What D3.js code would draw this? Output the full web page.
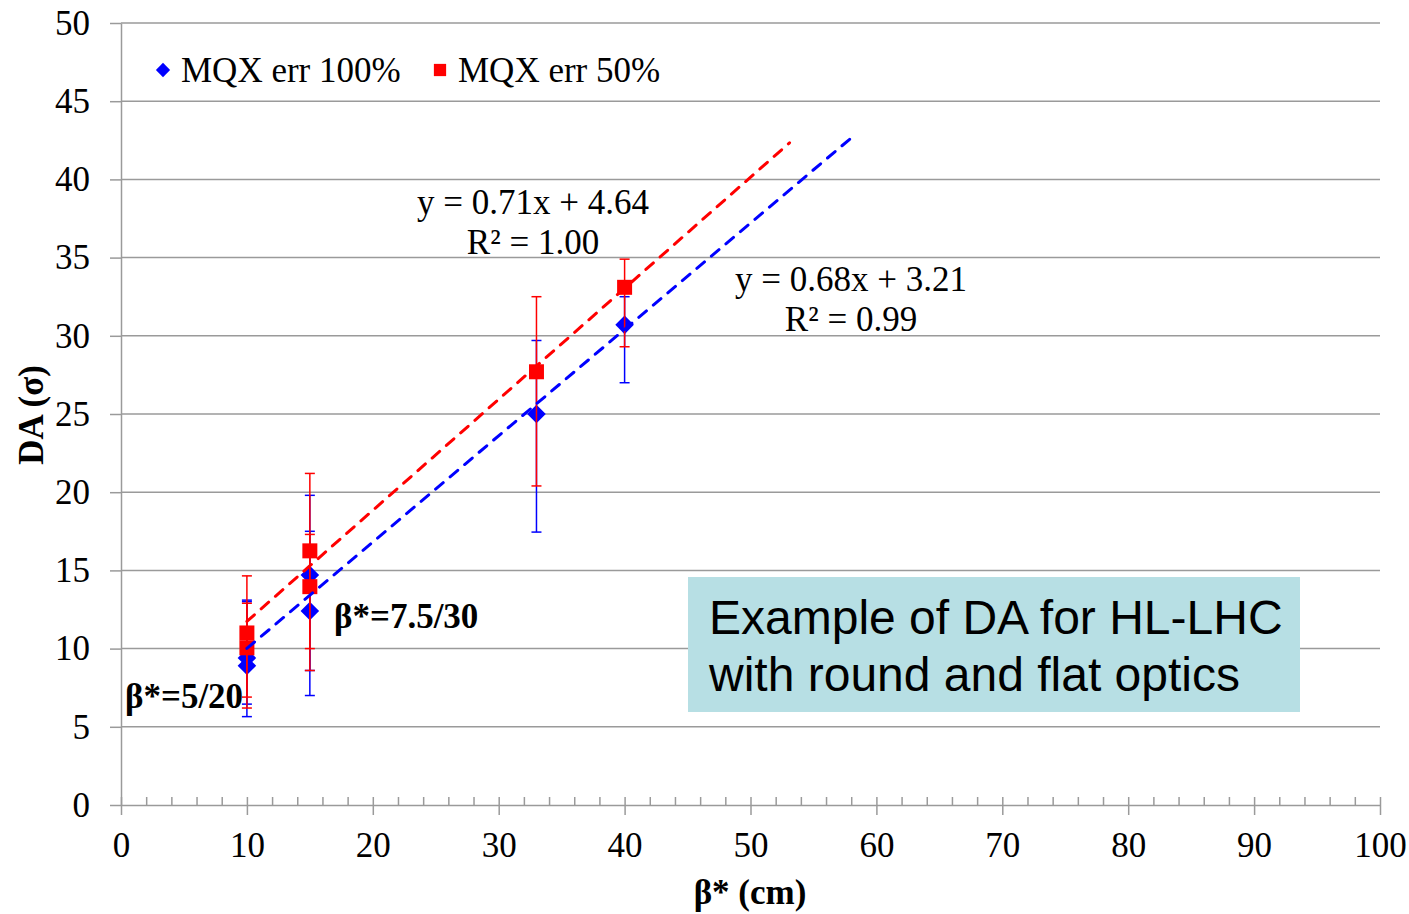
<!DOCTYPE html>
<html>
<head>
<meta charset="utf-8">
<script src="https://cdn.jsdelivr.net/npm/d3@7"></script>
<style>
  body { margin: 0; background: #fff; }
  svg text { font-family: "Liberation Serif", "Times New Roman", serif; }
</style>
</head>
<body>
<div id="chart"></div>
<script>
// data
var beta_blue = [10, 10, 15, 15, 33, 40];
var da_blue = [9.4, 8.9, 14.7, 12.4, 25.0, 30.7];
var blue_low = [5.65, 6.45, 8.6, 7.0, 17.45, 27.0];
var blue_high = [13.1, 13.0, 19.8, 17.5, 29.7, 32.5];

var beta_red = [10, 10, 15, 15, 33, 40];
var da_red = [11.0, 10.05, 16.25, 13.96, 27.7, 33.1];
var red_low = [6.9, 6.2, 10.0, 8.6, 20.4, 29.3];
var red_high = [14.65, 12.9, 21.2, 17.3, 32.5, 34.9];

// trend lines (slope, intercept, x range)
var trend_slope = [0.68, 0.71];
var trend_icpt = [3.21, 4.64];
var trend_x = [[10, 57.9], [10, 53.1]];
var trend_eq = ['y = 0.68x + 3.21', 'y = 0.71x + 4.64'];
var trend_r2 = ['R² = 0.99', 'R² = 1.00'];

var series_names = ['MQX err 100%', 'MQX err 50%'];
var series_colors = ['#0000ff', '#ff0000'];

var x_ticks = d3.range(0, 101, 10);
var x_minor = d3.range(0, 101, 2);
var y_ticks = d3.range(0, 51, 5);

var width = 1409, height = 914;
var grid_color = '#9a9a9a';
var serif = '"Liberation Serif", "Times New Roman", serif';
var fsize = 35;

var x = d3.scaleLinear().domain([0, 100]).range([121, 1380]);
var y = d3.scaleLinear().domain([0, 50]).range([805, 23]);

var svg = d3.select('#chart').append('svg')
  .attr('width', width).attr('height', height);

// gridlines
svg.append('g').selectAll('line').data(y_ticks.filter(function(d){ return d > 0; }))
  .enter().append('line')
  .attr('x1', x(0)).attr('x2', x(100))
  .attr('y1', function(d){ return y(d); }).attr('y2', function(d){ return y(d); })
  .attr('stroke', grid_color).attr('stroke-width', 1.5);

// y axis
var y_axis = svg.append('g').attr('transform', 'translate(' + x(0) + ',0)')
  .call(d3.axisLeft(y).tickValues(y_ticks).tickSize(11).tickPadding(20).tickSizeOuter(0))
  .attr('font-family', serif).attr('font-size', fsize);
y_axis.selectAll('text').attr('fill', '#000');

// x axis, major ticks below
var x_axis = svg.append('g').attr('transform', 'translate(0,' + y(0) + ')')
  .call(d3.axisBottom(x).tickValues(x_ticks).tickSize(10).tickPadding(17).tickSizeOuter(0))
  .attr('font-family', serif).attr('font-size', fsize);
x_axis.selectAll('text').attr('fill', '#000');

// minor ticks above
svg.append('g').attr('transform', 'translate(0,' + y(0) + ')')
  .call(d3.axisTop(x).tickValues(x_minor).tickSize(8).tickFormat('').tickSizeOuter(0))
  .select('.domain').remove();

svg.selectAll('.domain, .tick line').attr('stroke', grid_color).attr('stroke-width', 1.5);

// error bars and markers
var series = [
  { bx: beta_blue, v: da_blue, lo: blue_low, hi: blue_high },
  { bx: beta_red, v: da_red, lo: red_low, hi: red_high }
];

var diamond = d3.symbol().type(d3.symbolDiamond2).size(220);
var square = d3.symbol().type(d3.symbolSquare).size(225);

series.forEach(function(s, si){
  var pts = s.bx.map(function(b, i){ return { b: b, v: s.v[i], lo: s.lo[i], hi: s.hi[i] }; });
  var g = svg.append('g');
  var col = series_colors[si];

  g.selectAll('.bar').data(pts).enter().append('line')
    .attr('x1', function(d){ return x(d.b); }).attr('x2', function(d){ return x(d.b); })
    .attr('y1', function(d){ return y(d.lo); }).attr('y2', function(d){ return y(d.hi); })
    .attr('stroke', col).attr('stroke-width', 1.5);

  ['lo', 'hi'].forEach(function(k){
    g.selectAll('.cap-' + k).data(pts).enter().append('line')
      .attr('x1', function(d){ return x(d.b) - 5; }).attr('x2', function(d){ return x(d.b) + 5; })
      .attr('y1', function(d){ return y(d[k]); }).attr('y2', function(d){ return y(d[k]); })
      .attr('stroke', col).attr('stroke-width', 1.5);
  });

  g.selectAll('.pt').data(pts).enter().append('path')
    .attr('d', si === 0 ? diamond : square)
    .attr('transform', function(d){ return 'translate(' + x(d.b) + ',' + y(d.v) + ')'; })
    .attr('fill', col);
});

// trend lines
trend_slope.forEach(function(m, i){
  var x0 = trend_x[i][0], x1 = trend_x[i][1];
  svg.append('line')
    .attr('x1', x(x0)).attr('y1', y(m * x0 + trend_icpt[i]))
    .attr('x2', x(x1)).attr('y2', y(m * x1 + trend_icpt[i]))
    .attr('stroke', series_colors[i]).attr('stroke-width', 3)
    .attr('stroke-dasharray', '10,9').attr('stroke-linecap', 'round');
});

// trend labels
var eq_pos = [[851, 291], [533, 214]];
trend_eq.forEach(function(t, i){
  svg.append('text').attr('x', eq_pos[i][0]).attr('y', eq_pos[i][1])
    .attr('text-anchor', 'middle').attr('font-size', fsize).text(t);
  svg.append('text').attr('x', eq_pos[i][0]).attr('y', eq_pos[i][1] + 40)
    .attr('text-anchor', 'middle').attr('font-size', fsize).text(trend_r2[i]);
});

// legend
var legend_x = [163, 440];
series_names.forEach(function(n, i){
  svg.append('path')
    .attr('d', d3.symbol().type(i === 0 ? d3.symbolDiamond2 : d3.symbolSquare).size(i === 0 ? 130 : 150))
    .attr('transform', 'translate(' + legend_x[i] + ',70)')
    .attr('fill', series_colors[i]);
  svg.append('text').attr('x', legend_x[i] + 18).attr('y', 82)
    .attr('font-size', fsize).text(n);
});

// point annotations
svg.append('text').attr('x', 125).attr('y', 708)
  .attr('font-size', fsize).attr('font-weight', 'bold').text('β*=5/20');
svg.append('text').attr('x', 334).attr('y', 628)
  .attr('font-size', fsize).attr('font-weight', 'bold').text('β*=7.5/30');

// axis titles
svg.append('text').attr('x', 750).attr('y', 904)
  .attr('text-anchor', 'middle').attr('font-size', fsize).attr('font-weight', 'bold').text('β* (cm)');
svg.append('text').attr('transform', 'translate(43,415) rotate(-90)')
  .attr('text-anchor', 'middle').attr('font-size', fsize).attr('font-weight', 'bold').text('DA (σ)');

// info box
svg.append('rect').attr('x', 688).attr('y', 577).attr('width', 612).attr('height', 135)
  .attr('fill', '#b7dfe4');
svg.append('text').attr('x', 709).attr('y', 634)
  .attr('font-size', 48).style('font-family', '"Liberation Sans", Arial, sans-serif')
  .text('Example of DA for HL-LHC');
svg.append('text').attr('x', 709).attr('y', 691)
  .attr('font-size', 48).style('font-family', '"Liberation Sans", Arial, sans-serif')
  .text('with round and flat optics');
</script>
</body>
</html>
